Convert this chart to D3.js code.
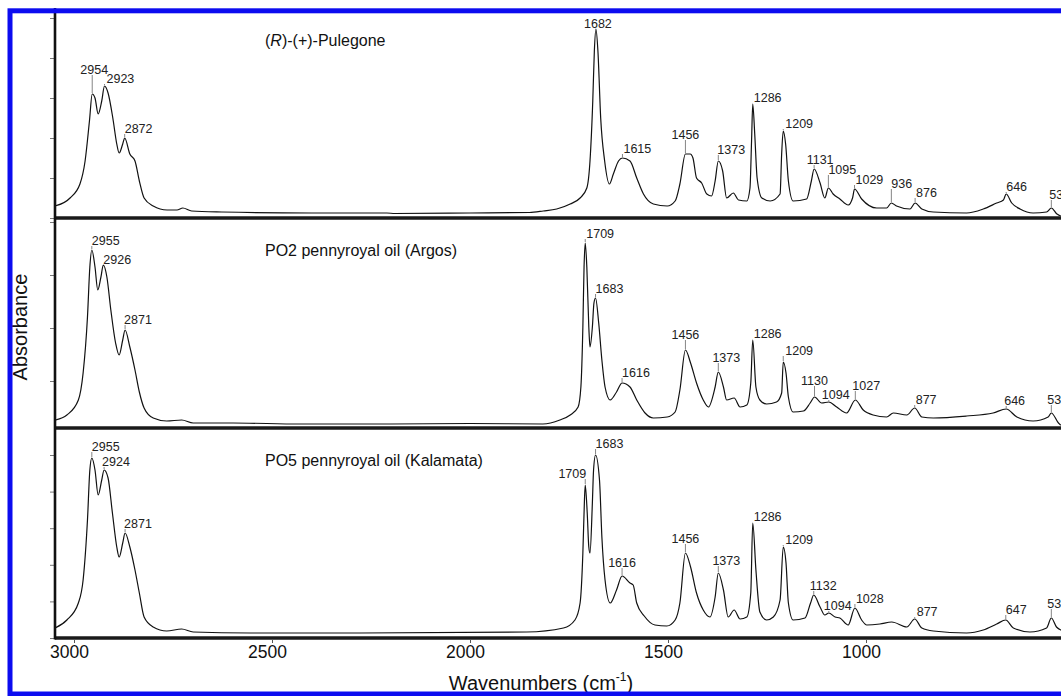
<!DOCTYPE html>
<html>
<head>
<meta charset="utf-8">
<script src="https://d3js.org/d3.v7.min.js"></script>
<style>
  body { margin: 0; background: #fff; }
  svg { display: block; font-family: Arial, "Liberation Sans", sans-serif; }
</style>
</head>
<body>
<div id="chart"></div>
<script>
// spectra, [wavenumber, absorbance]
const pulegone = [[3048,.12],[3010,.20],[2985,.34],[2972,.57],[2961,.97],[2954,1.24],[2947,1.20],[2939,1.04],[2930,1.17],[2923,1.32],[2914,1.25],[2902,1.00],[2892,.74],[2886,.65],[2877,.74],[2872,.80],[2859,.64],[2846,.57],[2835,.37],[2823,.20],[2800,.12],[2765,.08],[2740,.08],[2725,.10],[2703,.07],[2627,.06],[2400,.05],[2210,.05],[2190,.045],[2000,.05],[1850,.055],[1815,.07],[1781,.09],[1747,.14],[1722,.20],[1705,.30],[1697,.57],[1690,1.17],[1686,1.67],[1682,1.89],[1677,1.67],[1670,1.00],[1660,.57],[1648,.34],[1638,.44],[1625,.57],[1615,.60],[1596,.57],[1579,.40],[1562,.24],[1537,.14],[1502,.12],[1482,.17],[1470,.34],[1456,.64],[1444,.64],[1437,.60],[1428,.40],[1415,.35],[1402,.24],[1390,.22],[1381,.37],[1373,.57],[1362,.47],[1352,.20],[1335,.25],[1322,.18],[1301,.17],[1293,.30],[1289,.77],[1286,1.14],[1281,.84],[1275,.40],[1263,.20],[1242,.17],[1217,.24],[1213,.64],[1209,.87],[1203,.74],[1196,.37],[1184,.17],[1150,.19],[1138,.37],[1131,.49],[1116,.35],[1104,.20],[1095,.30],[1083,.24],[1066,.19],[1045,.13],[1034,.20],[1029,.29],[1011,.19],[973,.10],[948,.10],[936,.15],[923,.12],[889,.09],[876,.15],[859,.09],[830,.06],[746,.05],[704,.09],[670,.15],[653,.18],[646,.24],[632,.15],[611,.09],[578,.05],[544,.06],[532,.10],[518,.04],[508,.02],[470,.03],[420,.03]];

const po2 = [[3048,.08],[3018,.13],[2989,.28],[2977,.55],[2966,1.11],[2960,1.61],[2955,1.78],[2947,1.61],[2940,1.38],[2932,1.51],[2926,1.63],[2917,1.51],[2907,1.18],[2895,.85],[2886,.73],[2877,.88],[2871,.98],[2859,.81],[2846,.58],[2835,.36],[2823,.20],[2800,.10],[2766,.07],[2728,.08],[2699,.05],[2598,.05],[2429,.04],[2200,.04],[2000,.045],[1816,.04],[1773,.08],[1747,.13],[1727,.21],[1720,.41],[1715,1.01],[1712,1.61],[1709,1.85],[1705,1.61],[1700,1.01],[1697,.81],[1691,1.01],[1687,1.25],[1683,1.30],[1675,1.05],[1667,.68],[1659,.41],[1646,.28],[1630,.36],[1616,.45],[1596,.41],[1579,.28],[1558,.15],[1537,.10],[1502,.11],[1482,.16],[1470,.38],[1456,.78],[1443,.65],[1428,.45],[1411,.28],[1398,.21],[1381,.41],[1373,.56],[1360,.41],[1352,.28],[1333,.30],[1318,.21],[1301,.23],[1291,.45],[1286,.88],[1278,.41],[1268,.28],[1251,.24],[1226,.26],[1213,.35],[1209,.66],[1202,.55],[1196,.31],[1184,.16],[1158,.17],[1141,.25],[1130,.31],[1112,.25],[1094,.26],[1074,.21],[1049,.15],[1027,.28],[1007,.18],[982,.13],[948,.11],[931,.15],[897,.13],[877,.20],[859,.11],[830,.10],[746,.12],[679,.15],[646,.19],[619,.11],[578,.07],[540,.11],[532,.15],[514,.05],[508,.03],[470,.03],[420,.03]];

const po5 = [[3048,.10],[3018,.18],[2989,.35],[2977,.58],[2966,1.18],[2960,1.68],[2955,1.80],[2947,1.68],[2939,1.43],[2930,1.58],[2924,1.68],[2914,1.60],[2903,1.25],[2892,.91],[2886,.81],[2877,.95],[2871,1.05],[2859,.91],[2846,.68],[2835,.45],[2823,.21],[2800,.11],[2766,.07],[2728,.09],[2699,.06],[2555,.05],[2278,.05],[1857,.06],[1764,.10],[1735,.18],[1722,.35],[1715,.85],[1711,1.38],[1709,1.53],[1704,1.25],[1700,.91],[1697,.85],[1691,1.35],[1688,1.68],[1683,1.83],[1673,1.58],[1667,1.01],[1659,.58],[1646,.35],[1630,.48],[1616,.62],[1596,.55],[1588,.53],[1579,.35],[1560,.22],[1533,.13],[1503,.12],[1482,.18],[1470,.35],[1456,.85],[1443,.71],[1428,.45],[1411,.28],[1394,.21],[1381,.41],[1373,.65],[1360,.48],[1348,.21],[1333,.28],[1318,.19],[1301,.21],[1291,.45],[1286,1.15],[1278,.68],[1268,.26],[1251,.18],[1234,.21],[1217,.38],[1209,.91],[1202,.75],[1196,.35],[1184,.18],[1154,.20],[1140,.35],[1132,.43],[1116,.31],[1104,.23],[1094,.25],[1078,.21],[1066,.20],[1045,.13],[1028,.30],[1011,.18],[998,.13],[965,.14],[935,.16],[897,.11],[877,.19],[859,.10],[830,.07],[746,.05],[704,.08],[670,.14],[647,.18],[628,.10],[586,.06],[544,.10],[532,.20],[519,.11],[508,.08],[470,.05],[420,.04]];

const titles = ["(R)-(+)-Pulegone", "PO2 pennyroyal oil (Argos)", "PO5 pennyroyal oil (Kalamata)"];

// labelled peaks (cm-1)
const peaks1 = [2954, 2923, 2872, 1682, 1615, 1456, 1373, 1286, 1209, 1131, 1095, 1029, 936, 876, 646, 532];
const peaks2 = [2955, 2926, 2871, 1709, 1683, 1616, 1456, 1373, 1286, 1209, 1130, 1094, 1027, 877, 646, 532];
const peaks3 = [2955, 2924, 2871, 1709, 1683, 1616, 1456, 1373, 1286, 1209, 1132, 1094, 1028, 877, 647, 532];

const xTicks = [3000, 2500, 2000, 1500, 1000];
const yTicks1 = [0, 0.4, 0.8, 1.2, 1.6, 2.0];
const yTicks2 = [0.47, 1.0, 1.53, 2.06];
const yTicks3 = [0, 0.366, 0.732, 1.098, 1.464, 1.83];

// label placement: anchor, dx, lift above the peak (px)
const place = [
  {2954:["middle",2,20],2923:["start",2,3],2872:["start",0,5],1682:["middle",2,1],1615:["start",1,5],1456:["middle",0,15],1373:["start",-1,7],1286:["start",1,2],1209:["start",2,3],1131:["middle",6,5],1095:["start",0,14],1029:["start",1,5],936:["start",0,15],876:["start",1,6],646:["start",0,3],532:["start",-2,9]},
  {2955:["start",0,5],2926:["start",0,1],2871:["start",-1,6],1709:["start",1,5],1683:["start",0,5],1616:["start",0,6],1456:["middle",0,11],1373:["middle",8,10],1286:["start",1,2],1209:["start",2,7],1130:["middle",0,12],1094:["start",-7,3],1027:["start",-3,10],877:["start",1,4],646:["start",-2,4],532:["start",-4,9]},
  {2955:["start",0,7],2924:["start",-2,4],2871:["start",-1,5],1709:["end",1,7],1683:["start",0,7],1616:["middle",0,9],1456:["middle",0,10],1373:["middle",8,8],1286:["start",1,2],1209:["start",2,3],1132:["start",-4,5],1094:["start",-5,3],1028:["start",1,5],877:["start",2,3],647:["start",0,6],532:["start",-4,10]}
];

const W = 1061, H = 696;
const left = 55, bottom = 638, panelH = 210;

const svg = d3.select("#chart").append("svg")
  .attr("width", W)
  .attr("height", H);

const x = d3.scaleLinear()
  .domain([3048, 400])
  .range([left, left + 2648 * 0.396]);

svg.append("clipPath").attr("id", "plotclip")
  .append("rect")
  .attr("x", left + 1).attr("y", 8)
  .attr("width", W - left).attr("height", bottom - 8);

const panels = [
  {data: pulegone, peaks: peaks1, ticks: yTicks1, top: 8},
  {data: po2, peaks: peaks2, ticks: yTicks2, top: 218},
  {data: po5, peaks: peaks3, ticks: yTicks3, top: 428}
];

panels.forEach((p, i) => {
  const y = d3.scaleLinear().domain([0, 2.1]).range([p.top + panelH, p.top]);
  const g = svg.append("g");

  // y ticks
  g.append("g")
    .attr("transform", `translate(${left - 1},0)`)
    .call(d3.axisLeft(y).tickValues(p.ticks).tickSize(4).tickFormat(""))
    .call(a => a.select(".domain").remove())
    .call(a => a.selectAll("line").attr("stroke", "#777"));

  // spectrum
  const line = d3.line()
    .x(d => x(d[0]))
    .y(d => y(d[1]))
    .curve(d3.curveMonotoneX);
  g.append("path")
    .datum(p.data)
    .attr("clip-path", "url(#plotclip)")
    .attr("fill", "none")
    .attr("stroke", "#111")
    .attr("stroke-width", 1.2)
    .attr("stroke-linejoin", "round")
    .attr("d", line);

  // title
  const t = g.append("text")
    .attr("x", 265)
    .attr("y", p.top + 38)
    .attr("font-size", "16px")
    .attr("fill", "#111");
  const m = titles[i].match(/^\((R)\)(.*)$/);
  if (m) {
    t.append("tspan").text("(");
    t.append("tspan").attr("font-style", "italic").text(m[1]);
    t.append("tspan").text(")" + m[2]);
  } else {
    t.text(titles[i]);
  }

  // peak labels
  const lab = g.append("g").attr("font-size", "12.5px").attr("fill", "#222");
  p.peaks.forEach(wn => {
    const pt = p.data.reduce((a, b) => Math.abs(b[0] - wn) < Math.abs(a[0] - wn) ? b : a);
    const [anchor, dx, lift] = place[i][wn];
    const px = x(wn), py = y(pt[1]);
    const base = py - lift;
    lab.append("line")
      .attr("x1", px).attr("x2", px)
      .attr("y1", py - 1).attr("y2", Math.min(py - 1, base + 1))
      .attr("stroke", "#666").attr("stroke-width", 0.8);
    lab.append("text")
      .attr("x", px + dx)
      .attr("y", base)
      .attr("text-anchor", anchor)
      .text(wn);
  });

  // panel bottom line
  g.append("line")
    .attr("x1", left).attr("x2", W)
    .attr("y1", p.top + panelH).attr("y2", p.top + panelH)
    .attr("stroke", "#1a1a1a")
    .attr("stroke-width", 3.3);
});

// y axis line
svg.append("line")
  .attr("x1", left).attr("x2", left)
  .attr("y1", 8).attr("y2", bottom + 1.5)
  .attr("stroke", "#111")
  .attr("stroke-width", 2.6);

// x axis
const xAxis = svg.append("g")
  .attr("transform", `translate(0,${bottom + 1})`)
  .call(d3.axisBottom(x).tickValues(xTicks).tickSize(4).tickFormat(d3.format("d")));
xAxis.select(".domain").remove();
xAxis.selectAll("line").attr("stroke", "#555");
xAxis.selectAll("text")
  .attr("font-family", "Arial, 'Liberation Sans', sans-serif")
  .attr("font-size", "17.5px")
  .attr("fill", "#111")
  .attr("dy", 0)
  .attr("y", 19)
  .attr("dx", -5);

// axis titles
const xt = svg.append("text")
  .attr("x", 541)
  .attr("y", 690)
  .attr("text-anchor", "middle")
  .attr("font-size", "20px")
  .attr("fill", "#111");
xt.append("tspan").text("Wavenumbers (cm");
xt.append("tspan").attr("font-size", "12px").attr("dy", -9).text("-1");
xt.append("tspan").attr("dy", 9).text(")");

svg.append("text")
  .attr("transform", "translate(27,327) rotate(-90)")
  .attr("text-anchor", "middle")
  .attr("font-size", "20px")
  .attr("fill", "#111")
  .text("Absorbance");

// blue frame
svg.append("rect")
  .attr("x", 10).attr("y", 10.8)
  .attr("width", 1200).attr("height", 683.2)
  .attr("fill", "none")
  .attr("stroke", "#0c0cf0")
  .attr("stroke-width", 5);
</script>
</body>
</html>
